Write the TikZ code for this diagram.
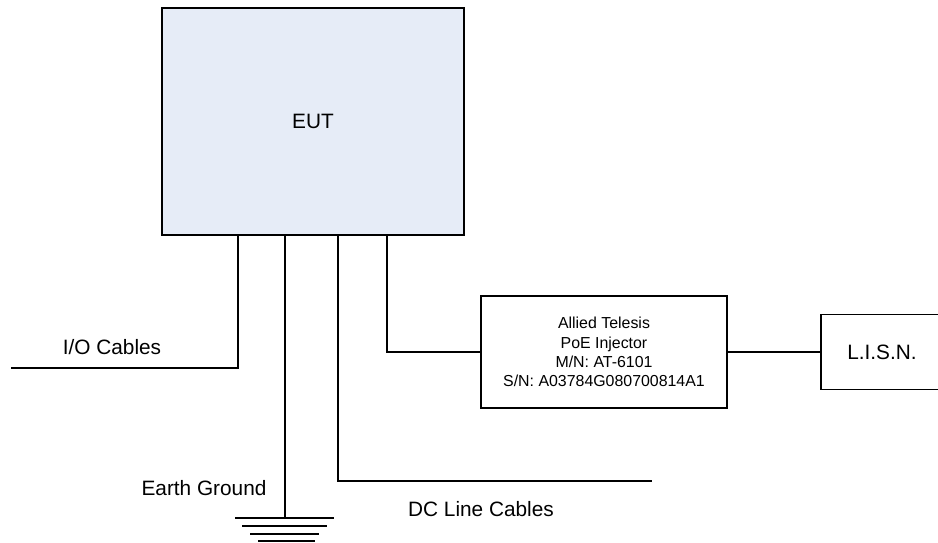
\documentclass[tikz,border=0pt]{standalone}
\usepackage{fontspec}
\setmainfont{Liberation Sans}
\definecolor{eutfill}{RGB}{230,236,247}
\begin{document}
\begin{tikzpicture}[x=1pt,y=-1pt,
  box/.style={draw=black,line width=1.6pt,inner sep=0pt,align=center},
  wire/.style={draw=black,line width=1.6pt},
  bigtxt/.style={font=\fontsize{20.8}{24}\selectfont,inner sep=0pt},
  smalltxt/.style={font=\fontsize{15.9}{19.3}\selectfont}]
\useasboundingbox (0,0) rectangle (938,542);
\node[box,fill=eutfill,minimum width=302pt,minimum height=227pt,bigtxt] (eut) at (313,121.5) {EUT};
\node[box,minimum width=246pt,minimum height=112pt,smalltxt] (inj) at (604,352) {Allied Telesis\\PoE Injector\\M/N: AT-6101\\S/N: A03784G080700814A1};
\node[box,minimum width=122pt,minimum height=75pt,bigtxt] (lisn) at (882,352) {L.I.S.N.};
\coordinate (p1) at (238,235);
\coordinate (p2) at (285,235);
\coordinate (p3) at (338,235);
\coordinate (p4) at (387,235);
\coordinate (ioend) at (11,368);
\coordinate (gnd) at (285,518);
\coordinate (dcend) at (652,481);
\draw[wire] (p1) |- (ioend);
\draw[wire] (p2) -- (gnd);
\draw[wire] (p3) |- (dcend);
\draw[wire] (p4) |- (inj.west);
\draw[wire] (inj.east) -- (lisn.west);
\draw[wire] (235,518) -- (334,518);
\draw[wire] (242,526) -- (327,526);
\draw[wire] (250,534) -- (319,534);
\draw[wire] (258,541) -- (315,541);
\node[bigtxt] (iolbl) at (112,347) {I/O Cables};
\node[bigtxt] (gndlbl) at (204,488) {Earth Ground};
\node[bigtxt] (dclbl) at (481,509) {DC Line Cables};
\end{tikzpicture}
\end{document}
